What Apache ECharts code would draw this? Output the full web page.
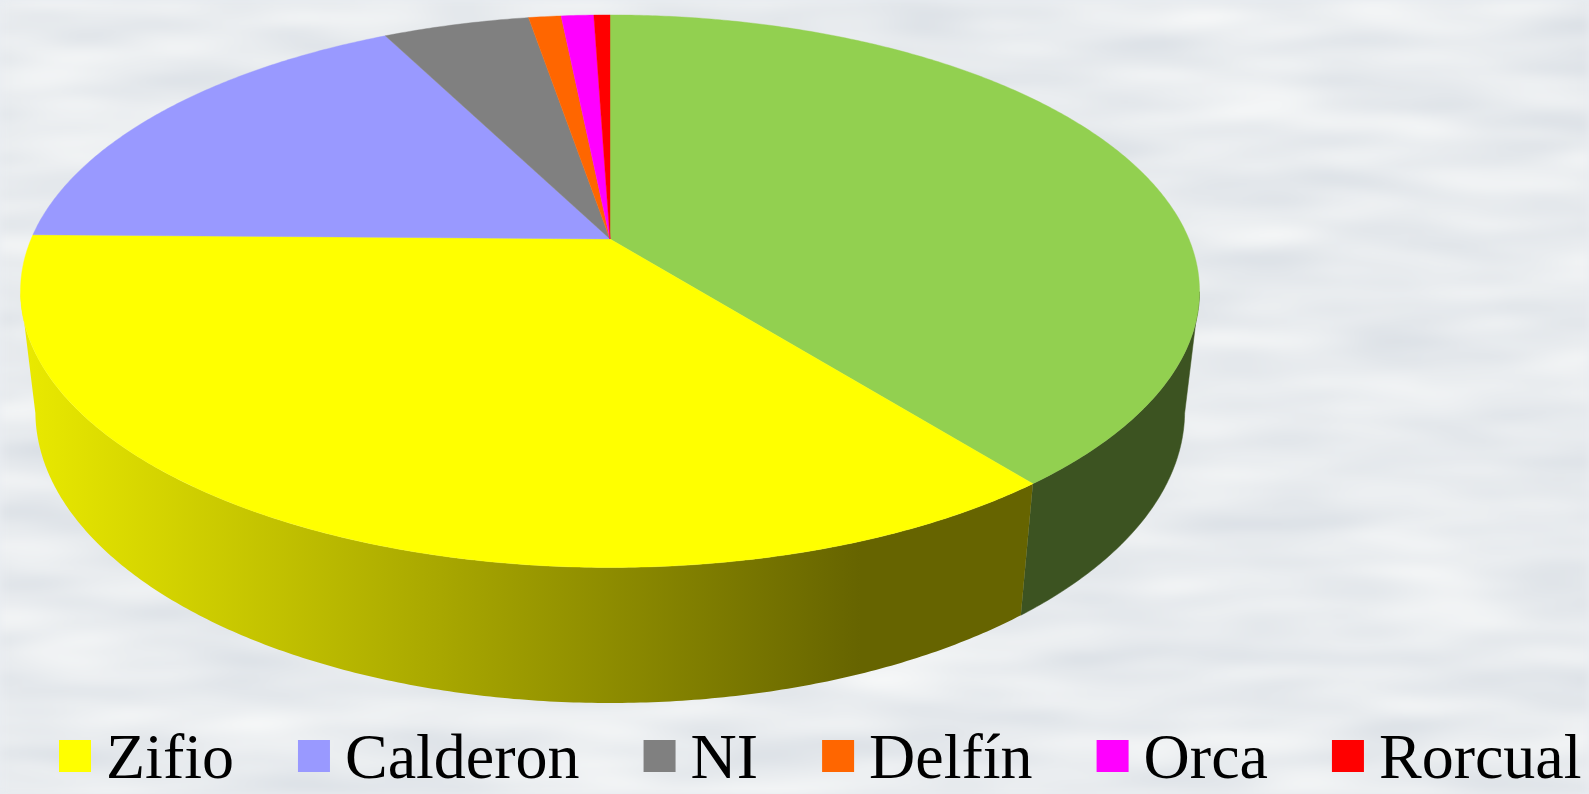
<!DOCTYPE html>
<html>
<head>
<meta charset="utf-8">
<style>
html,body{margin:0;padding:0;width:100%;height:100%;overflow:hidden;background:#e9edf2;}
#tex{position:absolute;left:0;top:0;width:1589px;height:794px;z-index:0;}
#main{position:absolute;left:0;top:0;width:1589px;height:794px;z-index:1;}
</style>
<script src="https://cdn.jsdelivr.net/npm/echarts@6/dist/echarts.min.js"></script>
</head>
<body>
<svg id="tex" xmlns="http://www.w3.org/2000/svg" width="1589" height="794">
  <filter id="water" x="0" y="0" width="100%" height="100%" color-interpolation-filters="sRGB">
    <feTurbulence type="fractalNoise" baseFrequency="0.006 0.03" numOctaves="2" seed="7"/>
    <feColorMatrix type="matrix" values="0.15 0 0 0 0.835  0.13 0 0 0 0.858  0.1 0 0 0 0.885  0 0 0 0 1"/>
    <feGaussianBlur stdDeviation="5 3"/>
  </filter>
  <rect width="1589" height="794" filter="url(#water)"/>
</svg>
<div id="main"></div>
<script>
const categories = ['Otros', 'Zifio', 'Calderon', 'NI', 'Delfín', 'Orca', 'Rorcual'];
const shares = [39.3, 35.94, 17.25, 4.82, 1.07, 1.07, 0.53];
const colors = ['#92d050', '#ffff00', '#9999ff', '#808080', '#ff6600', '#ff00ff', '#ff0000'];
const legendNames = ['Zifio', 'Calderon', 'NI', 'Delfín', 'Orca', 'Rorcual'];

const view = {cx: 610, cy: 239, A: 578.9, B: 266.4, k: 0.189, drop: 121.5, m: 0.025};
const total = shares.reduce((a, b) => a + b, 0);

function project(deg, h) {
  const t = deg * Math.PI / 180, u = Math.sin(t), v = -Math.cos(t);
  const w = 1 - view.k * v + view.m * h;
  return [view.cx + view.A * u / w, view.cy + (view.B * v + view.drop * h) / w];
}
function arc(a, b, h) {
  const n = Math.max(2, Math.ceil((b - a) * 2)), pts = [];
  for (let i = 0; i <= n; i++) pts.push(project(a + (b - a) * i / n, h));
  return pts;
}
const wallShade = {
  'Otros': '#3c5321',
  'Zifio': {type: 'linear', x: 0, y: 0, x2: 1, y2: 0, colorStops: [
    {offset: 0, color: '#eaea00'},
    {offset: 0.83, color: '#666400'},
    {offset: 1, color: '#666400'}
  ]}
};
function renderSlice(params, api) {
  const a = api.value(0), b = api.value(1), color = colors[params.seriesIndex];
  const children = [];
  const wa = Math.max(a, 101), wb = Math.min(b, 259);
  if (wb > wa) {
    const wall = arc(wa, wb, 0).concat(arc(wa, wb, 1).reverse());
    const fill = wallShade[categories[params.seriesIndex]];
    children.push({type: 'polygon', shape: {points: wall},
      style: {fill: fill, stroke: typeof fill === 'string' ? fill : null, lineWidth: 0.5}});
  }
  const top = [[view.cx, view.cy]].concat(arc(a, b, 0));
  children.push({type: 'polygon', shape: {points: top},
    style: {fill: color, stroke: color, lineWidth: 0.4}});
  return {type: 'group', children: children};
}
let acc = 0;
const series = categories.map((name, i) => {
  const start = acc / total * 360;
  acc += shares[i];
  return {
    type: 'custom', name: name, coordinateSystem: 'none', animation: false, silent: true,
    itemStyle: {color: colors[i]},
    renderItem: renderSlice,
    data: [[start, acc / total * 360]]
  };
});
const chart = echarts.init(document.getElementById('main'), null, {renderer: 'canvas'});
chart.setOption({
  backgroundColor: 'transparent',
  animation: false,
  legend: {
    data: legendNames, icon: 'rect', left: 59, top: 729, itemWidth: 32, itemHeight: 32, itemGap: 64,
    selectedMode: false, padding: 0,
    formatter: name => '{t|' + name + '}',
    textStyle: {
      rich: {t: {fontFamily: '"Liberation Serif", serif', fontSize: 64, color: '#000', padding: [10, 0, 0, 10]}}
    }
  },
  series: series
});
</script>
</body>
</html>
